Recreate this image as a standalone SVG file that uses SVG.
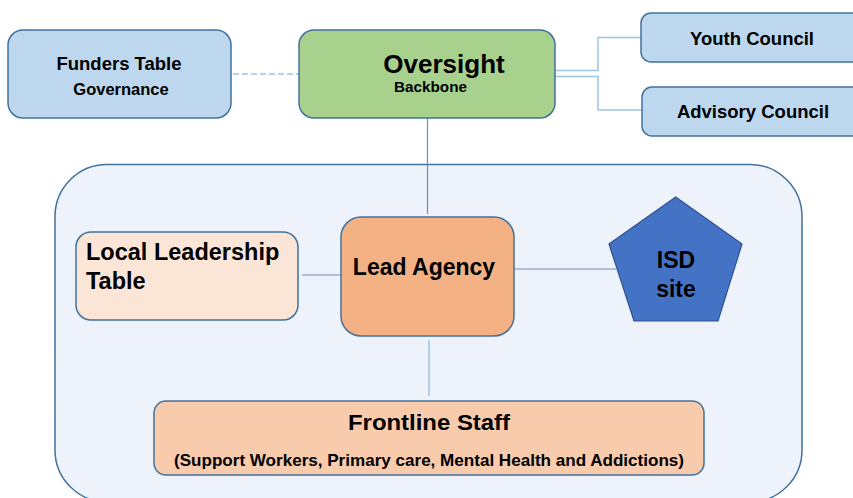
<svg xmlns="http://www.w3.org/2000/svg" width="853" height="498" viewBox="0 0 853 498">
<style>
.box{stroke:#41719c;stroke-width:1.5}
.blue{fill:#bdd7ee}
.t{font-family:"Liberation Sans",Arial,sans-serif;font-weight:bold;fill:#000}
.c{text-anchor:middle}
.ln{fill:none;stroke:#6c8ebf;stroke-width:1.2}
.lt{fill:none;stroke:#9dc3e6;stroke-width:1.5}
</style>
<rect width="853" height="498" fill="#ffffff"/>
<g id="container">
<rect x="55" y="164.5" width="747" height="337.5" rx="52" ry="52" fill="#eef2fa" stroke="#41719c" stroke-width="1.5"/>
</g>
<g id="connectors">
<line x1="233" y1="74" x2="299" y2="74" class="lt" stroke-dasharray="6,3"/>
<polyline points="555,70.5 598,70.5 598,37.5 641,37.5" class="lt"/>
<polyline points="555,76.5 598,76.5 598,110 642,110" class="lt"/>
<line x1="427.5" y1="118" x2="427.5" y2="214" class="ln"/>
<line x1="302" y1="275" x2="341" y2="275" class="ln"/>
<line x1="514" y1="269" x2="616" y2="269" class="ln"/>
<line x1="429" y1="340" x2="429" y2="396" class="lt" stroke-width="1"/>
</g>
<g id="funders">
<rect x="8" y="30" width="223" height="88" rx="15" class="box blue"/>
<text x="119" y="70" class="t c" font-size="18.5">Funders Table</text>
<text x="121" y="95" class="t c" font-size="16.5">Governance</text>
</g>
<g id="oversight">
<rect x="299" y="30" width="256" height="88" rx="15" class="box" fill="#a9d18e"/>
<text x="444" y="73" class="t c" font-size="26">Oversight</text>
<text x="394" y="92" class="t" font-size="15" textLength="73" lengthAdjust="spacingAndGlyphs">Backbone</text>
</g>
<g id="youth">
<rect x="641" y="13" width="230" height="49" rx="10" class="box blue"/>
<text x="752" y="45" class="t c" font-size="18.5">Youth Council</text>
</g>
<g id="advisory">
<rect x="642" y="87" width="230" height="49" rx="10" class="box blue"/>
<text x="753" y="118" class="t c" font-size="18.5">Advisory Council</text>
</g>
<g id="local">
<rect x="76" y="232" width="222" height="88" rx="15" class="box" fill="#fbe5d6"/>
<text x="86" y="260" class="t" font-size="23.5">Local Leadership</text>
<text x="86" y="289" class="t" font-size="23.5">Table</text>
</g>
<g id="lead">
<rect x="341" y="217" width="173" height="119" rx="20" class="box" fill="#f4b183"/>
<text x="424" y="275" class="t c" font-size="23">Lead Agency</text>
</g>
<g id="isd">
<polygon points="675.7,197 742,244 718,321 634,321 609,244" fill="#4472c4" stroke="#2f528f" stroke-width="1.2"/>
<text x="676" y="268" class="t c" font-size="23">ISD</text>
<text x="676" y="297" class="t c" font-size="23">site</text>
</g>
<g id="frontline">
<rect x="154" y="401" width="550" height="74" rx="12" class="box" fill="#f8cbad"/>
<text x="429" y="430" class="t c" font-size="22" textLength="162" lengthAdjust="spacingAndGlyphs">Frontline Staff</text>
<text x="429" y="466" class="t c" font-size="16.5" textLength="510" lengthAdjust="spacingAndGlyphs">(Support Workers, Primary care, Mental Health and Addictions)</text>
</g>
</svg>
